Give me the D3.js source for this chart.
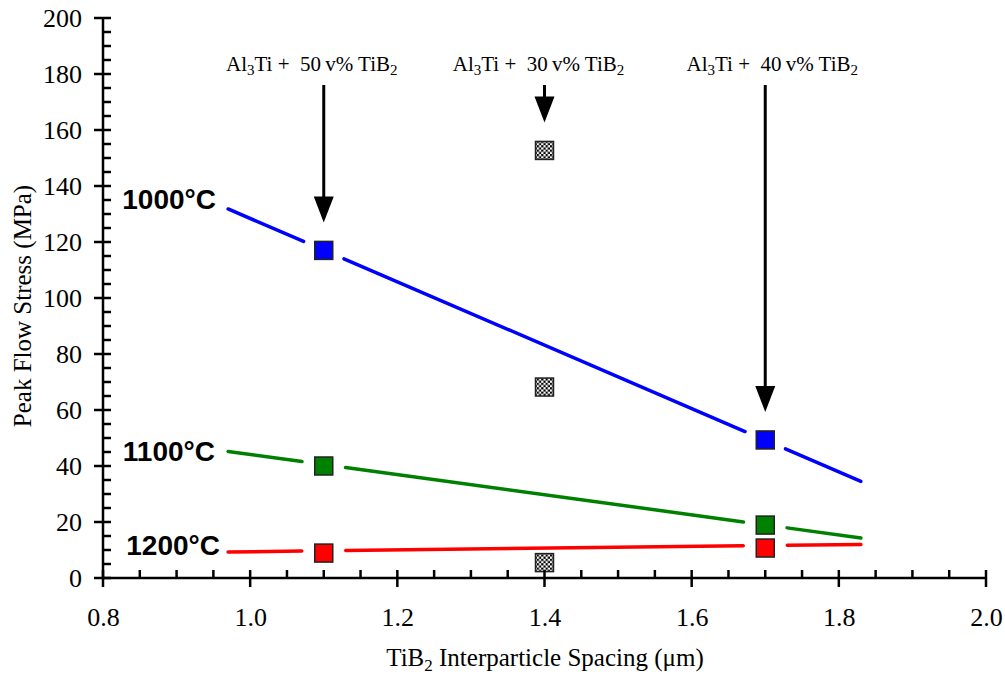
<!DOCTYPE html>
<html lang="en">
<head>
  <meta charset="UTF-8">
  <title>Peak Flow Stress vs TiB2 Interparticle Spacing</title>
  <style>
    body { margin: 0; background: #fff; }
    svg { display: block; }
  </style>
  <script src="https://d3js.org/d3.v7.min.js"></script>
</head>
<body>
  <div id="chart"></div>
  <script>
    // Datos
    var temps = ["1000°C", "1100°C", "1200°C"];
    var colors = ["#0000ff", "#008000", "#ff0000"];
    var spacing = [1.1, 1.7];
    var stress1000 = [117, 49.3];
    var stress1100 = [40, 18.9];
    var stress1200 = [8.9, 10.7];
    // extremos de las rectas de ajuste
    var fitX = [0.97, 1.83];
    var fit1000 = [131.8, 34.5];
    var fit1100 = [45.2, 14.3];
    var fit1200 = [9.3, 12.0];
    // puntos a 30 v% (marcador a cuadros)
    var x30 = 1.4;
    var stress30 = [152.7, 68.2, 5.5];
    // anotaciones
    var noteX = [1.1, 1.4, 1.7];
    var noteVol = ["50", "30", "40"];
    var arrowTip = [117, 152.7, 49.3];
    var xTicks = [0.8, 1.0, 1.2, 1.4, 1.6, 1.8, 2.0];
    var yTicks = [0, 20, 40, 60, 80, 100, 120, 140, 160, 180, 200];

    var SERIF = "Times New Roman";
    var SANS = "Liberation Sans";

    var W = 1005, H = 675;
    var x = d3.scaleLinear().domain([0.8, 2.0]).range([103, 986]);
    var y = d3.scaleLinear().domain([0, 200]).range([578, 18]);

    var svg = d3.select("#chart").append("svg")
      .attr("width", W).attr("height", H);

    // patrón de tablero de ajedrez
    var defs = svg.append("defs");
    var pat = defs.append("pattern")
      .attr("id", "checker")
      .attr("patternUnits", "userSpaceOnUse")
      .attr("width", 4.4).attr("height", 4.4);
    pat.append("rect").attr("width", 4.4).attr("height", 4.4).attr("fill", "#fff");
    pat.append("rect").attr("width", 2.2).attr("height", 2.2).attr("fill", "#000");
    pat.append("rect").attr("x", 2.2).attr("y", 2.2).attr("width", 2.2).attr("height", 2.2).attr("fill", "#000");

    var series = [stress1000, stress1100, stress1200];
    var fits = [fit1000, fit1100, fit1200];
    var gap = 22; // hueco en la recta alrededor de cada marcador

    // rectas de ajuste, partidas en los marcadores
    fits.forEach(function(f, i) {
      var x0 = x(fitX[0]), y0 = y(f[0]), x1 = x(fitX[1]), y1 = y(f[1]);
      var len = Math.hypot(x1 - x0, y1 - y0);
      var ux = (x1 - x0) / len, uy = (y1 - y0) / len;
      var cuts = spacing.map(function(s) { return (x(s) - x0) / ux; });
      var segs = [[0, cuts[0] - gap], [cuts[0] + gap, cuts[1] - gap], [cuts[1] + gap, len]];
      svg.append("g").selectAll("line").data(segs).enter().append("line")
        .attr("x1", function(d) { return x0 + ux * d[0]; })
        .attr("y1", function(d) { return y0 + uy * d[0]; })
        .attr("x2", function(d) { return x0 + ux * d[1]; })
        .attr("y2", function(d) { return y0 + uy * d[1]; })
        .attr("stroke", colors[i]).attr("stroke-width", 3.5)
        .attr("stroke-linecap", "round");
    });

    // marcadores cuadrados
    var sz = 18;
    series.forEach(function(s, i) {
      svg.append("g").selectAll("rect").data(s).enter().append("rect")
        .attr("x", function(d, j) { return x(spacing[j]) - sz / 2; })
        .attr("y", function(d) { return y(d) - sz / 2; })
        .attr("width", sz).attr("height", sz)
        .attr("fill", colors[i]).attr("stroke", "#222").attr("stroke-width", 1.5);
    });
    svg.append("g").selectAll("rect").data(stress30).enter().append("rect")
      .attr("x", x(x30) - sz / 2)
      .attr("y", function(d) { return y(d) - sz / 2; })
      .attr("width", sz).attr("height", sz)
      .attr("fill", "url(#checker)").attr("stroke", "#222").attr("stroke-width", 1.5);

    // ejes: líneas y marcas menores
    var axes = svg.append("g").attr("stroke", "#000").attr("stroke-width", 2.5);
    axes.append("line").attr("x1", x(0.8)).attr("x2", x(2.0)).attr("y1", y(0)).attr("y2", y(0));
    axes.append("line").attr("x1", x(0.8)).attr("x2", x(0.8)).attr("y1", y(0)).attr("y2", y(200));
    var xMinor = d3.range(0.8, 2.0001, 0.05).map(function(v) { return +v.toFixed(2); });
    var yMinor = d3.range(0, 200.001, 5);
    axes.append("g").selectAll("line").data(xMinor).enter().append("line")
      .attr("x1", x).attr("x2", x)
      .attr("y1", function(d) { return xTicks.indexOf(d) >= 0 ? y(0) + 9 : y(0); })
      .attr("y2", function(d) { return y(0) - 8; });
    axes.append("g").selectAll("line").data(yMinor).enter().append("line")
      .attr("y1", y).attr("y2", y)
      .attr("x1", function(d) { return d % 20 === 0 ? x(0.8) - 9 : x(0.8); })
      .attr("x2", x(0.8) + 8);

    // etiquetas de los ejes con d3.axis
    var gx = svg.append("g")
      .attr("transform", "translate(0," + y(0) + ")")
      .call(d3.axisBottom(x).tickValues(xTicks).tickSize(0).tickPadding(30)
        .tickFormat(d3.format(".1f")));
    var gy = svg.append("g")
      .attr("transform", "translate(" + x(0.8) + ",0)")
      .call(d3.axisLeft(y).tickValues(yTicks).tickSize(0).tickPadding(21));
    [gx, gy].forEach(function(g) {
      g.select(".domain").remove();
      g.attr("font-family", SERIF).attr("font-size", 26);
      g.selectAll("text").attr("fill", "#000")
        .style("font-family", "'Times New Roman', 'Liberation Serif', serif")
        .style("font-size", "26px");
    });

    // títulos de ejes
    var xt = svg.append("text").attr("font-family", SERIF).attr("font-size", 25)
      .attr("x", 545).attr("y", 666).attr("text-anchor", "middle");
    xt.append("tspan").text("TiB");
    xt.append("tspan").attr("font-size", 17).attr("dy", 5).text("2");
    xt.append("tspan").attr("dy", -5).text(" Interparticle Spacing (\u03bcm)");
    svg.append("text").attr("font-family", SERIF).attr("font-size", 25)
      .attr("transform", "translate(31,306) rotate(-90)")
      .attr("text-anchor", "middle")
      .text("Peak Flow Stress (MPa)");

    // etiquetas de temperatura
    var tempY = [fit1000[0], fit1100[0], fit1200[0]];
    var tempDx = [216, 215, 220];
    var tempDy = [0, 10, 3];
    svg.append("g").selectAll("text").data(temps).enter().append("text")
      .attr("font-family", SANS).attr("font-size", 28).attr("font-weight", "bold")
      .attr("x", function(d, i) { return tempDx[i]; })
      .attr("y", function(d, i) { return y(tempY[i]) + tempDy[i]; })
      .attr("text-anchor", "end")
      .text(function(d) { return d; });

    // anotaciones con flechas
    var noteDx = [-12, -6, 7];
    noteX.forEach(function(v, i) {
      var cx = x(v);
      var t = svg.append("text").attr("font-family", SERIF).attr("font-size", 21)
        .attr("x", cx + noteDx[i]).attr("y", 71).attr("text-anchor", "middle")
        .style("white-space", "pre");
      t.append("tspan").text("Al");
      t.append("tspan").attr("font-size", 15).attr("dy", 4).text("3");
      t.append("tspan").attr("dy", -4).text("Ti +\u00a0\u00a0" + noteVol[i] + "\u2009v% TiB");
      t.append("tspan").attr("font-size", 15).attr("dy", 4).text("2");
      var tip = y(arrowTip[i]) - 28;
      svg.append("line").attr("x1", cx).attr("x2", cx).attr("y1", 85).attr("y2", tip - 24)
        .attr("stroke", "#000").attr("stroke-width", 3);
      svg.append("path")
        .attr("d", "M" + (cx - 10) + "," + (tip - 26) + "L" + (cx + 10) + "," + (tip - 26) + "L" + cx + "," + tip + "Z")
        .attr("fill", "#000");
    });
  </script>
</body>
</html>
